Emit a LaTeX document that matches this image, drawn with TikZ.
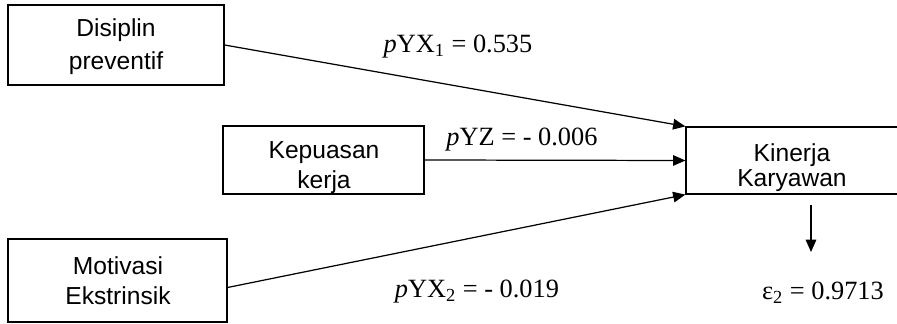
\documentclass[tikz,border=0pt]{standalone}
\usepackage{fontspec}
\setmainfont{Liberation Serif}
\newfontfamily\boxfont{Liberation Sans}
\usetikzlibrary{arrows.meta}

\tikzset{
  varbox/.style={draw, line width=0.7pt, inner sep=0pt},
  boxtext/.style={font=\boxfont\fontsize{14}{17}\selectfont, align=center, inner sep=0pt},
  coef/.style={font=\fontsize{15}{18}\selectfont, inner sep=0pt},
  link/.style={draw, line width=0.7pt, -{Triangle[length=7pt,width=6pt]}}
}

\begin{document}
\begin{tikzpicture}[x=0.02cm,y=-0.02cm]
\clip (0,0) rectangle (897,324);
% variables
\node[varbox, minimum width=4.32cm, minimum height=1.6cm] (dp) at (116,45) {};
\node[varbox, minimum width=4.02cm, minimum height=1.36cm] (kp) at (323.5,160) {};
\node[varbox, minimum width=4.38cm, minimum height=1.66cm] (mo) at (117.5,280.5) {};
\node[varbox, minimum width=4.48cm, minimum height=1.34cm] (kk) at (798,160.5) {};
% box texts
\node[boxtext, font=\boxfont\fontsize{14}{18.7}\selectfont] (dptext) at (116,47) {Disiplin\\preventif};
\node[boxtext] (kptext) at (324,168) {Kepuasan\\kerja};
\node[boxtext] (motext) at (118,281) {Motivasi\\Ekstrinsik};
\node[boxtext, font=\boxfont\fontsize{14}{14.2}\selectfont] (kktext) at (792,168) {Kinerja\\Karyawan};
% paths
\draw[link] (dp.east) -- (kk.north west);
\draw[link] (kp.east) -- (kk.west);
\draw[link] ([yshift=-0.14cm]mo.east) -- (kk.south west);
% coefficients
\node[coef] (c1) at (458,47) {{\itshape p}YX\textsubscript{1} = 0.535};
\node[coef] (c2) at (522,140) {{\itshape p}YZ = - 0.006};
\node[coef] (c3) at (477,292) {{\itshape p}YX\textsubscript{2} = - 0.019};
\node[coef] (eps) at (823,293) {ε\textsubscript{2} = 0.9713};
\coordinate (e2) at (811,252);
\draw[link, shorten <=6pt] (kk.south -| e2) -- (e2);
\end{tikzpicture}
\end{document}
